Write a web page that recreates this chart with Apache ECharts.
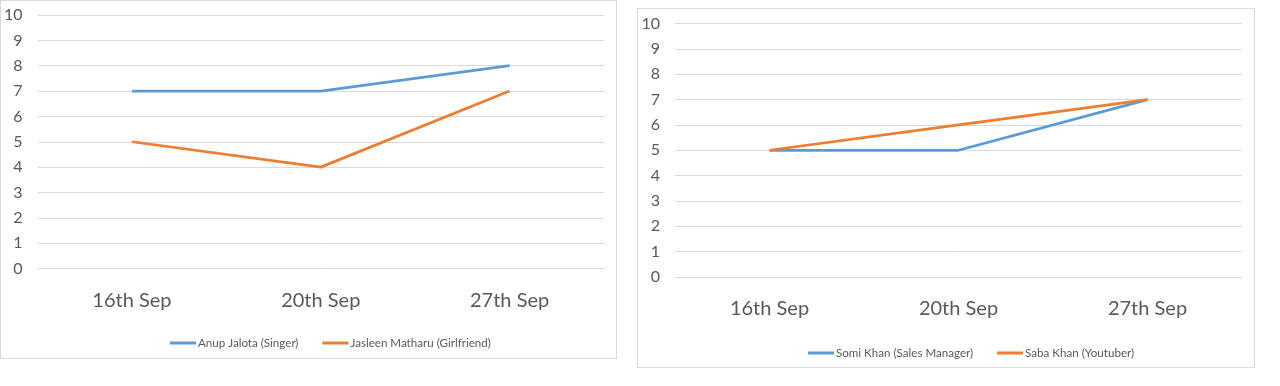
<!DOCTYPE html>
<html><head><meta charset="utf-8">
<script src="https://cdn.jsdelivr.net/npm/echarts@6/dist/echarts.min.js"></script>
<style>
html,body{margin:0;padding:0;background:#fff;width:1280px;height:386px;overflow:hidden;}
.box{position:absolute;border:1px solid #d9d9d9;box-sizing:border-box;background:#fff;}
#c1{left:0;top:0;width:617px;height:359px;}
#c2{left:637px;top:8px;width:618px;height:360px;}
</style></head>
<body>
<div id="c1" class="box"></div>
<div id="c2" class="box"></div>
<script>
var categories = ['16th Sep', '20th Sep', '27th Sep'];
var yTicks = [0, 1, 2, 3, 4, 5, 6, 7, 8, 9, 10];
var leftNames = ['Anup Jalota (Singer)', 'Jasleen Matharu (Girlfriend)'];
var anupJalota = [7, 7, 8];
var jasleenMatharu = [5, 4, 7];
var rightNames = ['Somi Khan (Sales Manager)', 'Saba Khan (Youtuber)'];
var somiKhan = [5, 5, 7];
var sabaKhan = [5, 6, 7];

var colors = ['#5B9BD5', '#ED7D31'];
var font = 'Lato, "Open Sans", sans-serif';

function makeOption(names, s1, s2, legendLeft, legendTop, gridLeft) {
  return {
    animation: false,
    color: colors,
    textStyle: {fontFamily: font},
    grid: {left: gridLeft, right: 12, top: 14, bottom: 89.5, containLabel: false},
    legend: {
      left: legendLeft, top: legendTop, icon: 'rect', itemWidth: 26, itemHeight: 3,
      itemGap: 24,
      textStyle: {color: '#595959', fontSize: 11.6, fontFamily: font, padding: [0, 0, 0, -3]},
      data: names
    },
    xAxis: {
      type: 'category', data: categories, boundaryGap: true,
      axisLine: {show: false}, axisTick: {show: false},
      axisLabel: {color: '#595959', fontSize: 20, margin: 22, fontFamily: font}
    },
    yAxis: {
      type: 'value', min: yTicks[0], max: yTicks[yTicks.length - 1], interval: 1,
      axisLine: {show: false}, axisTick: {show: false},
      axisLabel: {color: '#595959', fontSize: 16, margin: 15, fontFamily: font},
      splitLine: {lineStyle: {color: '#d9d9d9', width: 1}}
    },
    series: [
      {name: names[0], type: 'line', data: s1, showSymbol: false, symbol: 'none', lineStyle: {width: 2.75}},
      {name: names[1], type: 'line', data: s2, showSymbol: false, symbol: 'none', lineStyle: {width: 2.75}}
    ]
  };
}

var c1 = echarts.init(document.getElementById('c1'), null, {renderer: 'canvas'});
c1.setOption(makeOption(leftNames, anupJalota, jasleenMatharu, 164, 331, 36));
var o2 = makeOption(rightNames, somiKhan, sabaKhan, 165, 333, 37);
o2.grid.top = 14.5;
o2.grid.bottom = 90;
var c2 = echarts.init(document.getElementById('c2'), null, {renderer: 'canvas'});
c2.setOption(o2);
</script>
</body></html>
